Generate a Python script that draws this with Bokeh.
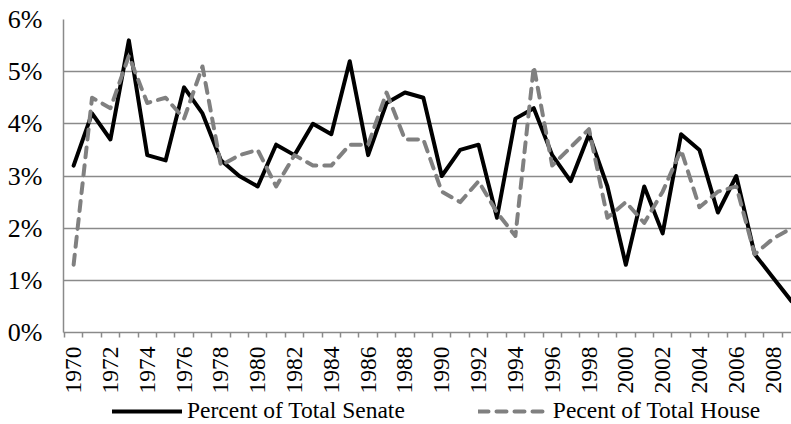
import math
from bokeh.plotting import figure
from bokeh.layouts import column
from bokeh.models import FixedTicker, PrintfTickFormatter, Legend, LegendItem, Range1d
from bokeh.embed import file_html
from bokeh.resources import INLINE

years = list(range(1970, 2010))
senate = [3.2, 4.2, 3.7, 5.6, 3.4, 3.3, 4.7, 4.2, 3.3, 3.0,
          2.8, 3.6, 3.4, 4.0, 3.8, 5.2, 3.4, 4.4, 4.6, 4.5,
          3.0, 3.5, 3.6, 2.2, 4.1, 4.3, 3.4, 2.9, 3.8, 2.8,
          1.3, 2.8, 1.9, 3.8, 3.5, 2.3, 3.0, 1.5, 1.05, 0.6]
house = [1.3, 4.5, 4.3, 5.3, 4.4, 4.5, 4.1, 5.1, 3.2, 3.4,
         3.5, 2.8, 3.4, 3.2, 3.2, 3.6, 3.6, 4.6, 3.7, 3.7,
         2.7, 2.5, 2.9, 2.3, 1.85, 5.1, 3.2, 3.55, 3.9, 2.2,
         2.5, 2.1, 2.7, 3.5, 2.4, 2.7, 2.8, 1.5, 1.8, 2.0]
x_tick_years = list(range(1970, 2010, 2))
y_ticks = [0, 1, 2, 3, 4, 5, 6]
senate_label = "Percent of Total Senate"
house_label = "Pecent of Total House"

FONT = "Liberation Serif"
GRID = "#8a8a8a"
SENATE_STYLE = dict(line_color="black", line_width=4, line_join="round", line_cap="round")
HOUSE_STYLE = dict(line_color="#808080", line_width=4, line_dash="10 8",
                   line_join="round", line_cap="round")

p = figure(width=791, height=396, output_backend="svg", toolbar_location=None,
           x_range=Range1d(1969.45, 2009.0), y_range=Range1d(0, 6.0),
           min_border_left=63, min_border_top=19, min_border_right=0, min_border_bottom=64)
p.outline_line_color = None
p.background_fill_color = "white"

p.line(years, senate, **SENATE_STYLE)
p.line(years, house, **HOUSE_STYLE)

# x axis
xa = p.xaxis[0]
xa.ticker = FixedTicker(ticks=x_tick_years,
                        minor_ticks=[y - 0.5 for y in years] + [years[-1] + 0.5])
xa.major_label_orientation = math.pi / 2
xa.major_tick_line_color = None
xa.major_tick_out = 0
xa.major_tick_in = 0
xa.minor_tick_line_color = GRID
xa.minor_tick_line_width = 1.5
xa.minor_tick_out = 5
xa.minor_tick_in = 0
xa.axis_line_color = GRID
xa.axis_line_width = 1.5
xa.major_label_standoff = 9
xa.major_label_text_font = FONT
xa.major_label_text_font_size = "23.5px"
xa.major_label_text_color = "black"

# y axis
ya = p.yaxis[0]
ya.ticker = FixedTicker(ticks=y_ticks)
ya.formatter = PrintfTickFormatter(format="%d%%")
ya.major_tick_line_color = None
ya.minor_tick_line_color = None
ya.major_tick_out = 0
ya.axis_line_color = GRID
ya.axis_line_width = 1.5
ya.major_label_standoff = 21
ya.major_label_text_font = FONT
ya.major_label_text_font_size = "26px"
ya.major_label_text_color = "black"

p.xgrid.grid_line_color = None
p.ygrid.grid_line_color = GRID
p.ygrid.grid_line_width = 1.5

# legend strip below the chart (its lines lie outside its visible range)
lg = figure(width=791, height=28, output_backend="svg", toolbar_location=None,
            x_range=Range1d(0, 1), y_range=Range1d(0, 1),
            min_border_left=63, min_border_right=0, min_border_top=0, min_border_bottom=0)
lg.axis.visible = False
lg.grid.visible = False
lg.outline_line_color = None
ls = lg.line(years, senate, **SENATE_STYLE)
lh = lg.line(years, house, **HOUSE_STYLE)
legend = Legend(items=[LegendItem(label=senate_label, renderers=[ls]),
                       LegendItem(label=house_label, renderers=[lh])],
                orientation="horizontal", location=(49, 0))
legend.label_text_font = FONT
legend.label_text_font_size = "23.5px"
legend.label_text_color = "black"
legend.glyph_width = 70
legend.glyph_height = 20
legend.label_standoff = 5
legend.spacing = 73
legend.padding = 0
legend.margin = 0
legend.border_line_color = None
legend.background_fill_alpha = 0
lg.add_layout(legend, "center")

layout = column(p, lg, spacing=0)
open("out.html", "w").write(file_html(layout, INLINE))
